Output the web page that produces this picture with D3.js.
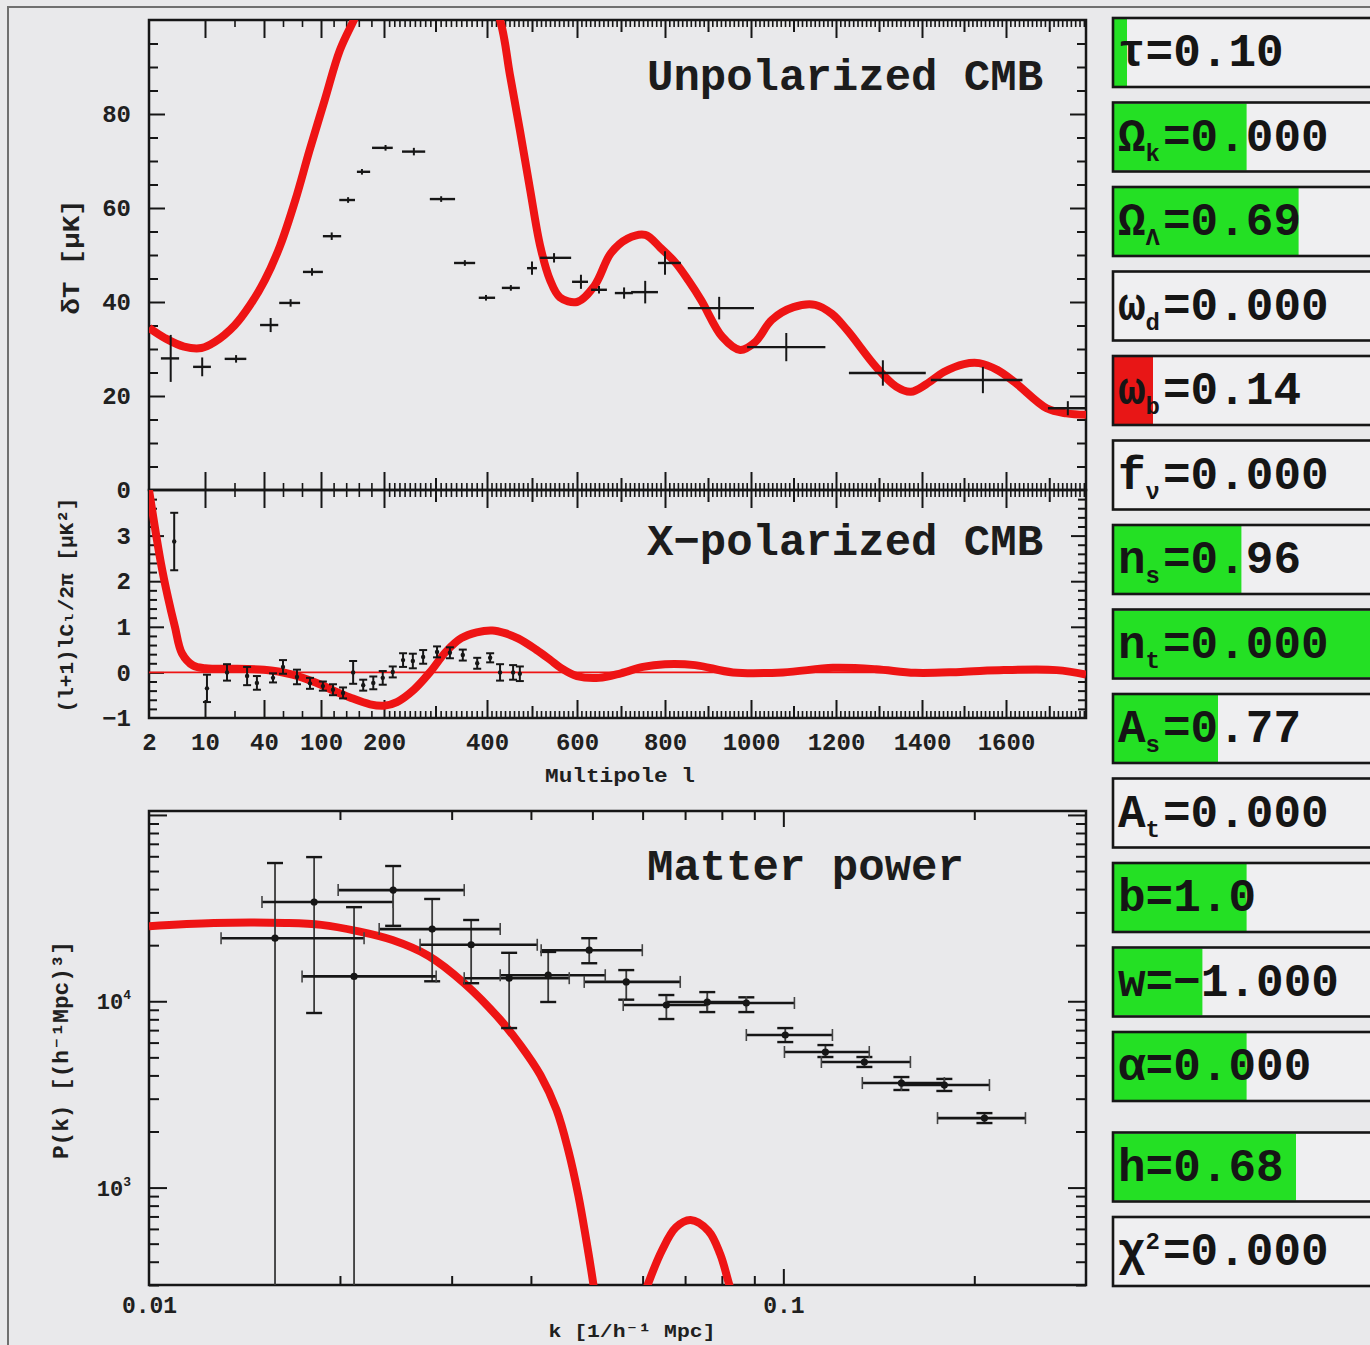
<!DOCTYPE html>
<html>
<head>
<meta charset="utf-8">
<title>CMB and matter power</title>
<script src="https://cdn.jsdelivr.net/npm/d3@7/dist/d3.min.js"></script>
<style>
  body { margin: 0; background: #e9e9eb; }
  svg { display: block; }
  text { font-family: "Liberation Mono", "DejaVu Sans Mono", monospace; font-weight: bold; }
</style>
</head>
<body>
<div id="plot"></div>
<script>
// unpolarized CMB - model curve
let ttCurveL = [2, 4.3, 7, 9.5, 15, 25, 33, 41, 57, 73, 88, 106, 130, 154, 180, 250, 320, 380, 429, 451,
                473, 496, 518, 540, 562, 600, 640, 677, 715, 755, 790, 825, 855, 884, 933, 975, 1010, 1049, 1100, 1151,
                1190, 1226, 1293, 1340, 1374, 1410, 1452, 1500, 1536, 1580, 1622, 1694, 1740, 1785];
let ttCurveT = [34.5, 32.3, 30.5, 30.2, 31.5, 35, 39.4, 44.7, 52, 61.7, 72.3, 83, 93.6, 100.5, 108, 122, 122, 112, 100, 88.3,
                76.6, 63.8, 52, 44.7, 41, 40, 43.5, 50.4, 53.5, 54.3, 51.5, 48.3, 44.5, 40.4, 32.6, 29.8, 31.5, 36.2, 38.9, 39.4,
                37.5, 34, 26.2, 22, 20.9, 22.5, 25.1, 26.8, 27, 25.5, 22.8, 17.4, 16.3, 16];
// unpolarized CMB - binned data
let ttL   = [5.1, 9.6, 25.8, 47, 68, 90.5, 117, 143, 165, 203, 258, 311, 357, 398, 453, 500, 549, 609, 650, 707, 755, 800, 926, 1083, 1309, 1545, 1743];
let ttLlo = [3.7, 8.3, 20, 38, 56, 81, 103, 129, 157, 181, 235, 289, 336, 384, 433, 489, 518, 589, 632, 686, 723, 784, 853, 991, 1230, 1421, 1697];
let ttLhi = [6.3, 13, 31, 55, 78, 103, 132, 154, 178, 217, 280, 338, 377, 418, 473, 511, 587, 625, 668, 727, 784, 837, 1007, 1175, 1409, 1638, 1785];
let ttT   = [28, 26.2, 27.9, 35.1, 39.8, 46.4, 54, 61.7, 67.7, 72.8, 72, 61.9, 48.3, 40.9, 43, 47.2, 49.4, 44.3, 42.6, 41.9, 42.1, 48.3, 38.7, 30.4, 24.9, 23.4, 17.4];
let ttErr = [5, 2, 0.8, 1.5, 0.8, 0.8, 0.8, 0.6, 0.6, 0.6, 0.8, 0.6, 0.6, 0.6, 0.6, 1.4, 1.0, 1.5, 0.8, 1.2, 2.4, 2.5, 2.4, 3, 2.7, 2.8, 1.5];

// X-polarized CMB - model curve
let teCurveL = [2, 3.7, 4.7, 5.7, 6.7, 8.3, 10, 15, 25, 40, 55, 70, 85, 100, 120, 146, 178, 200, 225, 258,
                289, 320, 350, 380, 412, 440, 470, 509, 540, 564, 600, 650, 700, 750, 800, 870, 958, 1075, 1193, 1293,
                1384, 1492, 1595, 1717, 1785];
let teCurveV = [4.0, 2.4, 1.65, 1.0, 0.42, 0.15, 0.09, 0.08, 0.08, 0.06, 0.02, -0.05, -0.15, -0.27, -0.4, -0.55, -0.7, -0.73, -0.65, -0.38,
                0, 0.45, 0.75, 0.88, 0.92, 0.86, 0.74, 0.5, 0.28, 0.1, -0.08, -0.12, -0.02, 0.12, 0.18, 0.16, 0, 0, 0.1, 0.07,
                -0.01, 0.01, 0.05, 0.05, -0.05];
// X-polarized CMB - data
let teL   = [5.6, 11, 21.2, 31.4, 36.4, 49.5, 60, 74.7, 88.4, 103, 119, 135, 151, 167, 183, 198, 217, 237, 256, 276, 303, 328, 353, 381, 407, 429, 458, 473];
let teV   = [2.87, -0.35, 0, -0.08, -0.23, -0.12, 0.12, -0.1, -0.24, -0.3, -0.38, -0.45, 0, -0.28, -0.23, -0.12, 0.01, 0.27, 0.25, 0.34, 0.45, 0.43, 0.38, 0.2, 0.32, 0, 0, -0.03];
let teErr = [0.63, 0.3, 0.18, 0.2, 0.15, 0.1, 0.15, 0.16, 0.12, 0.1, 0.12, 0.12, 0.25, 0.12, 0.14, 0.15, 0.12, 0.15, 0.16, 0.15, 0.12, 0.12, 0.12, 0.12, 0.1, 0.18, 0.16, 0.16];

// matter power - model curve (two visible pieces)
let pkCurveK = [0.01, 0.01266, 0.0164, 0.0187, 0.0213, 0.0242, 0.0276, 0.0314, 0.0357, 0.0385, 0.0414, 0.0439, 0.0458, 0.0475, 0.0489, 0.0502, 0.0514];
let pkCurveP = [25300, 26300, 26300, 25700, 23800, 21300, 17500, 12500, 8030, 5820, 4020, 2610, 1590, 912, 523, 300, 170];
let pkBumpK  = [0.058, 0.0611, 0.0643, 0.0677, 0.0714, 0.0762, 0.0795, 0.0822, 0.086];
let pkBumpP  = [180, 300, 457, 611, 670, 585, 440, 300, 180];
// matter power - galaxy data
let pkK   = [0.0158, 0.01821, 0.02105, 0.02426, 0.02795, 0.0322, 0.03696, 0.04259, 0.04943, 0.05654, 0.0654, 0.07587, 0.08743, 0.1007, 0.1165, 0.1342, 0.1535, 0.1794, 0.2075];
let pkKlo = [0.01299, 0.01507, 0.01743, 0.01987, 0.02306, 0.02675, 0.0314, 0.03578, 0.04152, 0.04854, 0.05592, 0.0654, 0.07587, 0.08743, 0.1004, 0.1148, 0.1332, 0.1535, 0.175];
let pkKhi = [0.02183, 0.02426, 0.02836, 0.0314, 0.03578, 0.04093, 0.04597, 0.05239, 0.05993, 0.06878, 0.07587, 0.08743, 0.1041, 0.1195, 0.1366, 0.1586, 0.1794, 0.2113, 0.2408];
let pkP   = [21800, 34100, 13600, 39500, 24400, 20100, 13300, 13800, 18800, 12700, 9550, 9910, 9790, 6590, 5340, 4720, 3640, 3550, 2360];
let pkPlo = [100, 8650, 100, 25400, 12800, 12500, 7180, 9910, 16000, 10200, 8030, 8750, 8750, 6040, 5020, 4440, 3340, 3300, 2220];
let pkPhi = [55200, 59400, 32000, 53200, 35400, 27300, 18200, 18400, 21800, 14700, 10800, 11200, 10500, 7180, 5820, 5020, 3920, 3830, 2510];

// parameter sliders
let paramSymbol = ['τ', 'Ω', 'Ω', 'ω', 'ω', 'f', 'n', 'n', 'A', 'A', 'b', 'w', 'α', 'h', 'χ'];
let paramSub    = ['', 'k', 'Λ', 'd', 'b', 'ν', 's', 't', 's', 't', '', '', '', '', ''];
let paramSup    = ['', '', '', '', '', '', '', '', '', '', '', '', '', '', '2'];
let paramValue  = ['0.10', '0.000', '0.69', '0.000', '0.14', '0.000', '0.96', '0.000', '0.77', '0.000', '1.0', '−1.000', '0.000', '0.68', '0.000'];
let paramFrac   = [0.05, 0.51, 0.71, 0, 0.15, 0, 0.49, 1, 0.4, 0, 0.51, 0.34, 0.51, 0.7, 0];
let paramState  = ['ok', 'ok', 'ok', 'ok', 'alert', 'ok', 'ok', 'ok', 'ok', 'ok', 'ok', 'ok', 'ok', 'ok', 'ok'];

// tick labels
let lTickLabels = [2, 10, 40, 100, 200, 400, 600, 800, 1000, 1200, 1400, 1600];
let ttTickLabels = [0, 20, 40, 60, 80];
let teTickLabels = [-1, 0, 1, 2, 3];
let kTickLabels = [0.01, 0.1];
let pTickExp = [3, 4];

let svgWidth = 1370, svgHeight = 1345;
let ink = '#161616', red = '#ee1414';
let left = 149, right = 1086;

let svg = d3.select('#plot').append('svg')
    .attr('width', svgWidth)
    .attr('height', svgHeight);

// scales (multipole axis is piecewise: stretched at low l)
let xL = d3.scaleLinear()
    .domain([2, 10, 40, 100, 200, 400, 600, 800, 1000, 1200, 1400, 1600, 1785])
    .range([left, 205, 264, 321, 384, 487, 577, 665, 751, 836, 922, 1006, right]);
let yTT = d3.scaleLinear().domain([0, 100]).range([490, 20]);
let yTE = d3.scaleLinear().domain([-1, 4]).range([718, 490]);
let xK = d3.scaleLog().domain([0.01, 0.3]).range([left, right]);
let yP = d3.scaleLog().domain([300, 105000]).range([1285, 811]);

// outer window frame
svg.append('path')
    .attr('d', `M8,${svgHeight} V7 H${svgWidth}`)
    .attr('fill', 'none').attr('stroke', '#707070').attr('stroke-width', 2);

let defs = svg.append('defs');
function addClip(id, x0, y0, x1, y1) {
  defs.append('clipPath').attr('id', id).append('rect')
      .attr('x', x0).attr('y', y0).attr('width', x1 - x0).attr('height', y1 - y0);
}
addClip('clipTT', left, yTT(100), right, yTT(0));
addClip('clipTE', left, yTE(4), right, yTE(-1));
addClip('clipPK', left, yP(105000), right, yP(300));

// tick marks, pointing into the panel
function tickSet(axis, scale, values, len, tx, ty, w) {
  svg.append('g')
      .attr('transform', `translate(${tx},${ty})`)
      .call(axis(scale).tickValues(values).tickSize(-len).tickFormat(''))
      .call(g => g.select('.domain').remove())
      .selectAll('line').attr('stroke', ink).attr('stroke-width', w || 2);
}
function labelSet(axis, scale, values, fmt, tx, ty, pad, size) {
  svg.append('g')
      .attr('transform', `translate(${tx},${ty})`)
      .call(axis(scale).tickValues(values).tickSize(0).tickPadding(pad).tickFormat(fmt))
      .call(g => g.select('.domain').remove())
      .attr('font-size', size)
      .attr('font-family', null)
      .style('color', '#202020');
}

// multipole ticks
let lMajor = [10, 40, 100, 200, 400, 600, 800, 1000, 1200, 1400, 1600];
let lMid = d3.range(300, 1785, 200);
let lMinor = [25, 60, 80, 120, 140, 160, 180].concat(d3.range(210, 1785, 10).filter(v => v % 100 !== 0));
[[d3.axisTop, 20], [d3.axisBottom, 490], [d3.axisTop, 490], [d3.axisBottom, 718]].forEach(([ax, y]) => {
  tickSet(ax, xL, lMajor, 18, 0, y);
  tickSet(ax, xL, lMid, 12, 0, y);
  tickSet(ax, xL, lMinor, 7, 0, y, 1.6);
});

// unpolarized y ticks
let ttMinor = d3.range(5, 100, 5).filter(v => v % 20 !== 0);
tickSet(d3.axisLeft, yTT, [20, 40, 60, 80], 16, left, 0);
tickSet(d3.axisLeft, yTT, ttMinor, 9, left, 0);
tickSet(d3.axisRight, yTT, [20, 40, 60, 80], 16, right, 0);
tickSet(d3.axisRight, yTT, ttMinor, 9, right, 0);

// polarized y ticks
let teMinor = d3.range(-4, 20).filter(i => i % 5 !== 0).map(i => i / 5);
tickSet(d3.axisLeft, yTE, [0, 1, 2, 3], 15, left, 0);
tickSet(d3.axisLeft, yTE, teMinor, 8, left, 0);
tickSet(d3.axisRight, yTE, [0, 1, 2, 3], 15, right, 0);
tickSet(d3.axisRight, yTE, teMinor, 8, right, 0);

// matter power ticks
let kMinor = [0.02, 0.03, 0.04, 0.05, 0.06, 0.07, 0.08, 0.09, 0.2];
tickSet(d3.axisTop, xK, [0.1], 16, 0, 811);
tickSet(d3.axisTop, xK, kMinor, 9, 0, 811);
tickSet(d3.axisBottom, xK, [0.1], 16, 0, 1285);
tickSet(d3.axisBottom, xK, kMinor, 9, 0, 1285);
let pMajor = [1e3, 1e4, 1e5];
let pMinor = [];
[100, 1000, 10000].forEach(dec => d3.range(2, 10).forEach(m => { if (m * dec >= 300 && m * dec <= 100000) pMinor.push(m * dec); }));
tickSet(d3.axisLeft, yP, pMajor, 18, left, 0);
tickSet(d3.axisLeft, yP, pMinor, 10, left, 0);
tickSet(d3.axisRight, yP, pMajor, 18, right, 0);
tickSet(d3.axisRight, yP, pMinor, 10, right, 0);

// panel frames
[[yTT(100), yTT(0)], [yTE(4), yTE(-1)], [yP(105000), yP(300)]].forEach(([y0, y1]) => {
  svg.append('rect')
      .attr('x', left).attr('y', y0).attr('width', right - left).attr('height', y1 - y0)
      .attr('fill', 'none').attr('stroke', ink).attr('stroke-width', 2.5);
});

// tick labels
labelSet(d3.axisLeft, yTT, ttTickLabels, d3.format('d'), left - 1, 0, 17, 24);
labelSet(d3.axisLeft, yTE, teTickLabels, d3.format('d'), left - 1, 0, 17, 24);
labelSet(d3.axisBottom, xL, lTickLabels, d3.format('d'), 0, 718, 15, 24);
labelSet(d3.axisBottom, xK, kTickLabels, d => String(d), 0, 1285, 12, 23);
pTickExp.forEach(e => {
  let t = svg.append('text')
      .attr('x', left - 18).attr('y', yP(Math.pow(10, e)) + 8)
      .attr('text-anchor', 'end').attr('font-size', 22).attr('fill', '#202020');
  t.append('tspan').text('10');
  t.append('tspan').attr('font-size', 13).attr('dy', -10).text(e);
});

// axis titles
function rotLabel(text, cx, cy, len, size) {
  svg.append('text')
      .attr('transform', `translate(${cx},${cy}) rotate(-90)`)
      .attr('text-anchor', 'middle').attr('dominant-baseline', 'central')
      .attr('font-size', size).attr('fill', '#202020')
      .attr('textLength', len).attr('lengthAdjust', 'spacingAndGlyphs')
      .text(text);
}
rotLabel('δT [μK]', 72, 257, 115, 24);
rotLabel('(l+1)lCₗ/2π [μK²]', 67, 605, 215, 20);
rotLabel('P(k) [(h⁻¹Mpc)³]', 62, 1050, 218, 22);

svg.append('text').attr('x', 620).attr('y', 782).attr('text-anchor', 'middle')
    .attr('font-size', 20).attr('fill', '#202020')
    .attr('textLength', 150).attr('lengthAdjust', 'spacingAndGlyphs')
    .text('Multipole l');
svg.append('text').attr('x', 632).attr('y', 1337).attr('text-anchor', 'middle')
    .attr('font-size', 19).attr('fill', '#202020')
    .attr('textLength', 167).attr('lengthAdjust', 'spacingAndGlyphs')
    .text('k [1/h⁻¹ Mpc]');

// panel titles
[['Unpolarized CMB', 90], ['X−polarized CMB', 555], ['Matter power', 880]].forEach(([t, y]) => {
  svg.append('text').attr('x', 647).attr('y', y)
      .attr('font-size', 44).attr('fill', '#1c1c1c').text(t);
});

// model curves
let curve = d3.curveCatmullRom.alpha(0.5);
svg.append('path')
    .datum(ttCurveL.map((l, i) => [l, ttCurveT[i]]))
    .attr('clip-path', 'url(#clipTT)')
    .attr('d', d3.line().x(d => xL(d[0])).y(d => yTT(d[1])).curve(curve))
    .attr('fill', 'none').attr('stroke', red).attr('stroke-width', 8);

svg.append('line')
    .attr('x1', left).attr('x2', right).attr('y1', yTE(0)).attr('y2', yTE(0))
    .attr('stroke', red).attr('stroke-width', 1.6);
svg.append('path')
    .datum(teCurveL.map((l, i) => [l, teCurveV[i]]))
    .attr('clip-path', 'url(#clipTE)')
    .attr('d', d3.line().x(d => xL(d[0])).y(d => yTE(d[1])).curve(curve))
    .attr('fill', 'none').attr('stroke', red).attr('stroke-width', 8);

let pkLine = d3.line().x(d => xK(d[0])).y(d => yP(d[1])).curve(curve);
[[pkCurveK, pkCurveP], [pkBumpK, pkBumpP]].forEach(([ks, ps]) => {
  svg.append('path')
      .datum(ks.map((k, i) => [k, ps[i]]))
      .attr('clip-path', 'url(#clipPK)')
      .attr('d', pkLine)
      .attr('fill', 'none').attr('stroke', red).attr('stroke-width', 8);
});

// unpolarized data: bin width and error
let tt = ttL.map((l, i) => ({ l: l, lo: ttLlo[i], hi: ttLhi[i], t: ttT[i], e: ttErr[i] }));
let gTT = svg.append('g').attr('clip-path', 'url(#clipTT)').attr('stroke', ink).attr('stroke-width', 2);
gTT.selectAll('line.h').data(tt).join('line').attr('class', 'h')
    .attr('x1', d => xL(d.lo)).attr('x2', d => xL(d.hi))
    .attr('y1', d => yTT(d.t)).attr('y2', d => yTT(d.t))
    .attr('stroke-width', 2.4);
gTT.selectAll('line.v').data(tt).join('line').attr('class', 'v')
    .attr('x1', d => xL(d.l)).attr('x2', d => xL(d.l))
    .attr('y1', d => yTT(d.t - d.e)).attr('y2', d => yTT(d.t + d.e));

// polarized data
let te = teL.map((l, i) => ({ l: l, v: teV[i], e: teErr[i] }));
let gTE = svg.append('g').attr('clip-path', 'url(#clipTE)').attr('stroke', ink).attr('stroke-width', 2);
gTE.selectAll('line.v').data(te).join('line').attr('class', 'v')
    .attr('x1', d => xL(d.l)).attr('x2', d => xL(d.l))
    .attr('y1', d => yTE(d.v - d.e)).attr('y2', d => yTE(d.v + d.e));
['lo', 'hi'].forEach(side => {
  gTE.selectAll('line.c' + side).data(te).join('line').attr('class', 'c' + side)
      .attr('x1', d => xL(d.l) - 4).attr('x2', d => xL(d.l) + 4)
      .attr('y1', d => yTE(side === 'lo' ? d.v - d.e : d.v + d.e))
      .attr('y2', d => yTE(side === 'lo' ? d.v - d.e : d.v + d.e));
});
gTE.selectAll('circle').data(te).join('circle')
    .attr('cx', d => xL(d.l)).attr('cy', d => yTE(d.v)).attr('r', 2.2)
    .attr('fill', ink).attr('stroke', 'none');

// matter power data
let pk = pkK.map((k, i) => ({ k: k, klo: pkKlo[i], khi: pkKhi[i], p: pkP[i], plo: pkPlo[i], phi: pkPhi[i] }));
let gPK = svg.append('g').attr('clip-path', 'url(#clipPK)');
gPK.selectAll('line.v').data(pk).join('line').attr('class', 'v')
    .attr('x1', d => xK(d.k)).attr('x2', d => xK(d.k))
    .attr('y1', d => yP(d.plo)).attr('y2', d => yP(d.phi))
    .attr('stroke', '#3a3a3a').attr('stroke-width', 1.8);
['plo', 'phi'].forEach(key => {
  gPK.selectAll('line.' + key).data(pk).join('line').attr('class', key)
      .attr('x1', d => xK(d.k) - 8).attr('x2', d => xK(d.k) + 8)
      .attr('y1', d => yP(d[key])).attr('y2', d => yP(d[key]))
      .attr('stroke', ink).attr('stroke-width', 2.4);
});
gPK.selectAll('line.h').data(pk).join('line').attr('class', 'h')
    .attr('x1', d => xK(d.klo)).attr('x2', d => xK(d.khi))
    .attr('y1', d => yP(d.p)).attr('y2', d => yP(d.p))
    .attr('stroke', ink).attr('stroke-width', 2.6);
['klo', 'khi'].forEach(key => {
  gPK.selectAll('line.' + key).data(pk).join('line').attr('class', key)
      .attr('x1', d => xK(d[key])).attr('x2', d => xK(d[key]))
      .attr('y1', d => yP(d.p) - 6).attr('y2', d => yP(d.p) + 6)
      .attr('stroke', '#444').attr('stroke-width', 1.6);
});
gPK.selectAll('circle').data(pk).join('circle')
    .attr('cx', d => xK(d.k)).attr('cy', d => yP(d.p)).attr('r', 3.6)
    .attr('fill', ink);

// parameter slider boxes
let boxX = 1113, boxW = 262, boxH = 69;
let boxTop = i => 18 + i * 84.5 + (i >= 13 ? 16 : 0);
let fillWidth = d3.scaleLinear().domain([0, 1]).range([0, boxW - 2]);
let stateColor = d3.scaleOrdinal().domain(['ok', 'alert']).range(['#24e024', '#e81616']);

paramSymbol.forEach((sym, i) => {
  let g = svg.append('g').attr('transform', `translate(${boxX},${boxTop(i)})`);
  g.append('rect').attr('width', boxW).attr('height', boxH).attr('fill', '#efeff1');
  g.append('rect').attr('x', 1).attr('y', 1).attr('width', fillWidth(paramFrac[i])).attr('height', boxH - 2)
      .attr('fill', stateColor(paramState[i]));
  g.append('rect').attr('width', boxW).attr('height', boxH)
      .attr('fill', 'none').attr('stroke', ink).attr('stroke-width', 2.6);
  let t = g.append('text').attr('x', 5).attr('y', 48).attr('font-size', 46).attr('fill', '#151515');
  t.append('tspan').text(sym);
  if (paramSub[i]) {
    t.append('tspan').attr('font-size', 24).attr('dy', 10).text(paramSub[i]);
    t.append('tspan').attr('dy', -10).attr('dx', 3).text('=' + paramValue[i]);
  } else if (paramSup[i]) {
    t.append('tspan').attr('font-size', 24).attr('dy', -16).text(paramSup[i]);
    t.append('tspan').attr('dy', 16).attr('dx', 3).text('=' + paramValue[i]);
  } else {
    t.append('tspan').text('=' + paramValue[i]);
  }
});
</script>
</body>
</html>
